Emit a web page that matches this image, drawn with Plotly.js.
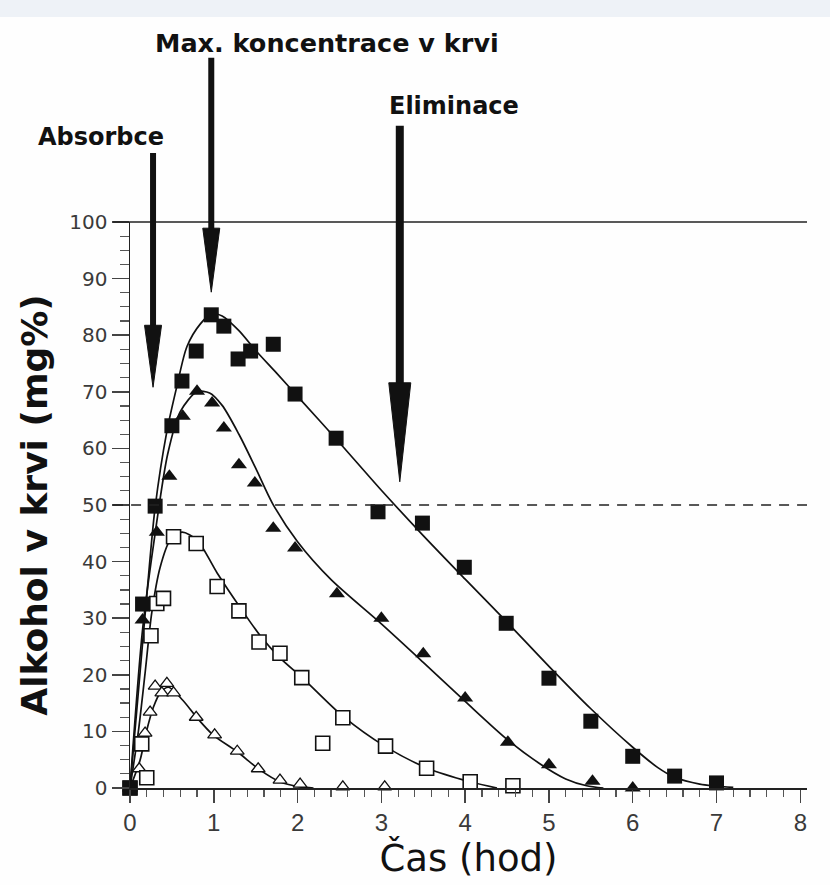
<!DOCTYPE html>
<html>
<head>
<meta charset="utf-8">
<script src="https://cdn.plot.ly/plotly-3.0.1.min.js"></script>
<style>html,body{margin:0;padding:0;background:#fefefe;}</style>
</head>
<body>
<div id="chart" style="width:830px;height:885px;"></div>
<script>
// ---- measured data (time in hours, blood alcohol in mg%) ----
// filled squares (highest dose)
const sqT = [0, 0.15, 0.3, 0.5, 0.62, 0.79, 0.97, 1.12, 1.29, 1.44, 1.71, 1.97, 2.46, 2.96, 3.49, 3.99, 4.49, 5.0, 5.5, 6.0, 6.5, 7.0];
const sqC = [0, 32.5, 49.8, 64, 71.9, 77.2, 83.6, 81.6, 75.8, 77.2, 78.4, 69.6, 61.8, 48.8, 46.8, 39.0, 29.1, 19.4, 11.8, 5.6, 2.1, 0.9];
// filled triangles
const triT = [0, 0.15, 0.32, 0.47, 0.63, 0.8, 0.98, 1.12, 1.3, 1.49, 1.71, 1.97, 2.47, 3.0, 3.5, 4.0, 4.51, 5.0, 5.52, 6.0];
const triC = [0, 29.7, 45.2, 55.1, 65.7, 70.1, 68.0, 63.6, 57.1, 53.9, 45.9, 42.4, 34.3, 30.0, 23.7, 15.9, 8.1, 4.1, 1.2, 0.0];
// open squares
const osqT = [0, 0.14, 0.2, 0.25, 0.32, 0.4, 0.52, 0.79, 1.04, 1.30, 1.54, 1.79, 2.05, 2.3, 2.54, 3.05, 3.54, 4.06, 4.57];
const osqC = [0, 7.8, 1.8, 26.9, 32.6, 33.5, 44.4, 43.2, 35.6, 31.3, 25.8, 23.8, 19.5, 7.9, 12.4, 7.4, 3.5, 1.1, 0.4];
// open triangles (lowest dose)
const otrT = [0, 0.11, 0.18, 0.24, 0.3, 0.38, 0.44, 0.52, 0.79, 1.01, 1.28, 1.53, 1.79, 2.03, 2.54, 3.04];
const otrC = [0, 3.4, 9.7, 13.4, 18.0, 16.8, 18.5, 16.8, 12.5, 9.4, 6.5, 3.4, 1.4, 0.7, 0.2, 0.2];

// ---- fitted curves ----
const fitSqT = [0, 0.1, 0.2, 0.3, 0.44, 0.56, 0.68, 0.84, 0.98, 1.1, 1.3, 1.5, 1.75, 2.0, 2.5, 3.0, 3.5, 4.0, 4.5, 5.0, 5.5, 6.0, 6.3, 6.5, 6.8, 7.2];
const fitSqC = [0, 17, 34, 49.6, 63, 71, 78, 82, 83.8, 83.4, 80.8, 77.3, 73.3, 69.2, 61, 52.6, 44.6, 36.9, 29.3, 21.5, 14, 7.2, 3.6, 1.9, 0.7, 0.1];
const fitTriT = [0, 0.15, 0.3, 0.45, 0.6, 0.8, 0.95, 1.1, 1.3, 1.5, 1.7, 2.0, 2.4, 3.0, 3.5, 4.0, 4.5, 4.9, 5.2, 5.45, 5.65];
const fitTriC = [0, 28, 45, 59, 66.5, 70, 69.8, 67.6, 62.5, 56.5, 50.3, 43.5, 36.8, 29, 22.2, 15.3, 8.6, 4.2, 1.6, 0.4, 0];
const fitOsqT = [0, 0.1, 0.18, 0.26, 0.36, 0.48, 0.62, 0.8, 1.04, 1.31, 1.55, 1.79, 2.07, 2.54, 3.04, 3.55, 4.06, 4.38];
const fitOsqC = [0, 10, 20.3, 31, 39, 43.8, 45.2, 43.8, 38, 32, 27, 23, 19.3, 12.7, 7.4, 3.5, 1.1, 0];
const fitOtrT = [0, 0.12, 0.2, 0.28, 0.36, 0.46, 0.63, 0.8, 0.99, 1.28, 1.55, 1.79, 2.03, 2.19];
const fitOtrC = [0, 4.9, 10.2, 14.3, 16.8, 17.8, 15.5, 12.4, 9.4, 6.4, 3.2, 1.1, 0.2, 0];

// ---- tick labels ----
const xTicks = [0, 1, 2, 3, 4, 5, 6, 7, 8];
const yTicks = [0, 10, 20, 30, 40, 50, 60, 70, 80, 90, 100];

// ---- arrow labels ----
const arrowLabels = ['Absorbce', 'Max. koncentrace v krvi', 'Eliminace'];
const arrowTime = [0.275, 0.97, 3.22];        // hours
const arrowTipLevel = [70.8, 87.6, 54.1];     // mg%
const arrowTopLevel = [112.2, 129.0, 117.0];  // mg% (above plot)

const INK = '#111111';
const curveLine = {color: INK, width: 1.7, shape: 'spline', smoothing: 0.8};

const traces = [
  {x: fitSqT, y: fitSqC, mode: 'lines', line: curveLine, hoverinfo: 'skip', cliponaxis: false},
  {x: fitTriT, y: fitTriC, mode: 'lines', line: curveLine, hoverinfo: 'skip', cliponaxis: false},
  {x: fitOsqT, y: fitOsqC, mode: 'lines', line: curveLine, hoverinfo: 'skip', cliponaxis: false},
  {x: fitOtrT, y: fitOtrC, mode: 'lines', line: curveLine, hoverinfo: 'skip', cliponaxis: false},
  {x: otrT, y: otrC, mode: 'markers', cliponaxis: false,
   marker: {symbol: 'triangle-up', size: 12, color: '#ffffff', line: {color: INK, width: 1.3}}},
  {x: osqT, y: osqC, mode: 'markers', cliponaxis: false,
   marker: {symbol: 'square', size: 14, color: '#ffffff', line: {color: INK, width: 1.6}}},
  {x: triT, y: triC, mode: 'markers', cliponaxis: false,
   marker: {symbol: 'triangle-up', size: 14, color: INK, line: {width: 0}}},
  {x: sqT, y: sqC, mode: 'markers', cliponaxis: false,
   marker: {symbol: 'square', size: 15, color: INK, line: {width: 0}}}
];

const headLen = [62, 64, 99];
const headW = [17, 17, 22];
const shaftW = [6, 6, 8];
const plotH = 566;
const xMax = 8.08;

const shapes = [
  // light strip at top of screenshot
  {type: 'rect', xref: 'paper', yref: 'paper', x0: -0.2, x1: 1.05, y0: 1.362, y1: 1.40,
   fillcolor: '#eef2f7', line: {width: 0}, layer: 'below'},
  // reference lines at 100 and 50
  {type: 'line', xref: 'paper', yref: 'paper', x0: -0.025, x1: 1, y0: 1, y1: 1,
   line: {color: '#222', width: 1.5}},
  {type: 'line', xref: 'paper', yref: 'paper', x0: -0.025, x1: 1, y0: 0.5, y1: 0.5,
   line: {color: '#222', width: 1.5, dash: '10px,8px'}}
];
const annotations = [];
const labelPos = [{x: -0.35, y: 1.150, size: 24}, {x: 2.35, y: 1.316, size: 25.5}, {x: 3.87, y: 1.205, size: 24}];
for (let i = 0; i < arrowLabels.length; i++) {
  const tip = arrowTipLevel[i] / 100, top = arrowTopLevel[i] / 100;
  shapes.push({type: 'line', xref: 'x', yref: 'paper', x0: arrowTime[i], x1: arrowTime[i],
    y0: top, y1: tip + (headLen[i] - 6) / plotH, line: {color: INK, width: shaftW[i]}});
  const hw = headW[i] / 2, hl = headLen[i];
  shapes.push({type: 'path', xref: 'x', yref: 'paper', xsizemode: 'pixel', ysizemode: 'pixel',
    xanchor: arrowTime[i], yanchor: tip,
    path: `M${-hw},${hl} L${hw},${hl} L0,0 Z`, fillcolor: INK, line: {color: INK, width: 1}});
  annotations.push({xref: 'paper', yref: 'paper', x: labelPos[i].x / xMax, y: labelPos[i].y, showarrow: false,
    text: arrowLabels[i], xanchor: 'center', yanchor: 'middle',
    font: {family: 'DejaVu Sans', size: labelPos[i].size, color: INK, weight: 'bold'}});
}

const layout = {
  width: 830, height: 885,
  margin: {l: 130, r: 23, t: 222, b: 97, pad: 0},
  paper_bgcolor: '#fefefe', plot_bgcolor: '#fefefe',
  showlegend: false,
  xaxis: {
    range: [0, xMax], tickvals: xTicks, ticktext: xTicks.map(String),
    ticks: 'outside', ticklen: 13, tickwidth: 1.5, tickcolor: '#444',
    showline: true, linecolor: '#222', linewidth: 1.5, showgrid: false, zeroline: false,
    minor: {dtick: 0.2, tick0: 0, ticks: 'outside', ticklen: 7, tickwidth: 1.2, tickcolor: '#555', showgrid: false},
    tickfont: {family: 'Liberation Sans', size: 24, color: '#3a3a3a'},
    title: {text: 'Čas (hod)', standoff: 8, font: {family: 'DejaVu Sans', size: 37, color: INK}}
  },
  yaxis: {
    range: [0, 100], tickvals: yTicks, ticktext: yTicks.map(String),
    ticks: 'outside', ticklen: 17, tickwidth: 1.5, tickcolor: '#444',
    showline: true, linecolor: '#222', linewidth: 1.5, showgrid: false, zeroline: false,
    minor: {dtick: 2.5, tick0: 0, ticks: 'outside', ticklen: 9, tickwidth: 1.2, tickcolor: '#555', showgrid: false},
    tickfont: {family: 'DejaVu Sans', size: 20, color: '#3a3a3a'},
    title: {text: 'Alkohol v krvi (mg%)', standoff: 10, font: {family: 'DejaVu Sans', size: 36, color: INK, weight: 'bold'}}
  },
  shapes: shapes,
  annotations: annotations
};

Plotly.newPlot('chart', traces, layout, {displayModeBar: false, staticPlot: true});
</script>
</body>
</html>
